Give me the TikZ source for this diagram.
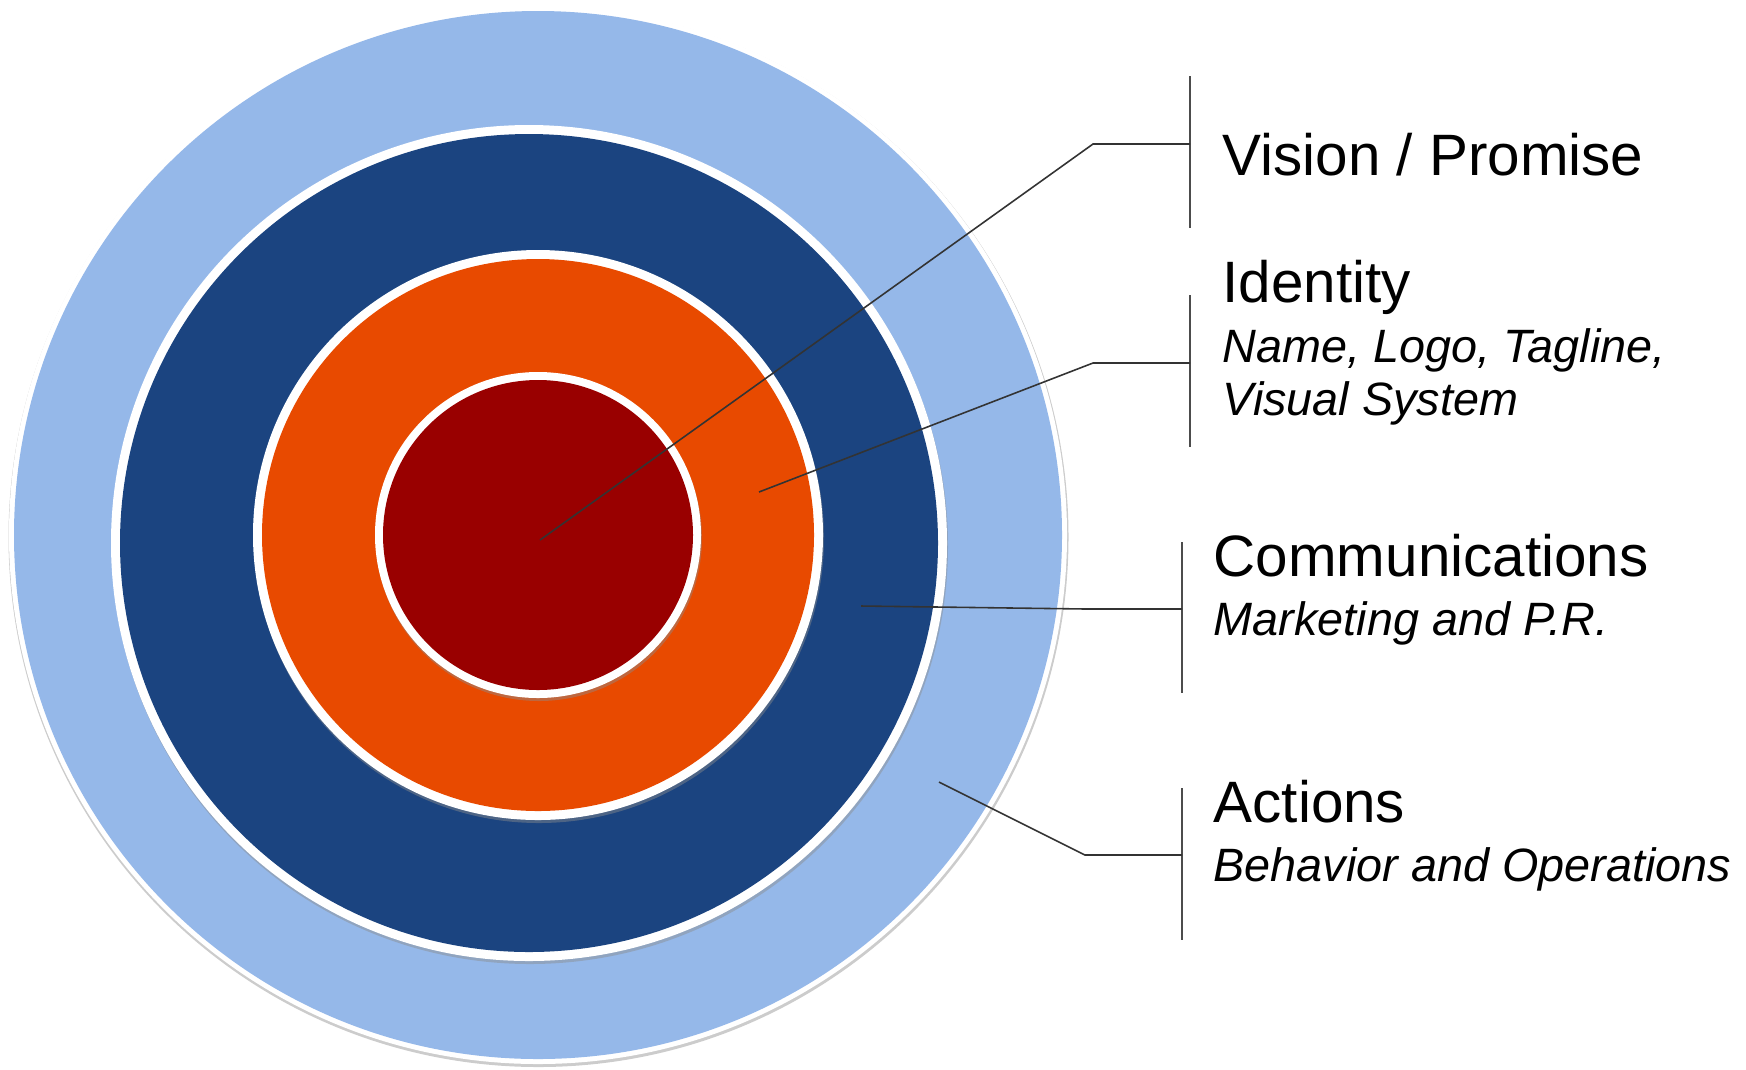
\documentclass[tikz,border=0pt]{standalone}
\usepackage{fontspec}
\setmainfont{Liberation Sans}
\usetikzlibrary{positioning}

\definecolor{skyring}{HTML}{95B8E9}
\definecolor{navyring}{HTML}{1B4480}
\definecolor{orangering}{HTML}{E84A00}
\definecolor{redcore}{HTML}{990000}
\definecolor{leader}{HTML}{333333}

\begin{document}
\begin{tikzpicture}[x=0.01cm,y=-0.01cm]

    \tikzstyle{rim}=[fill=white]
    \tikzstyle{shade}=[fill=black!45,opacity=0.45]
    \tikzstyle{lead}=[draw=leader,line width=0.45pt]
    \tikzstyle{bar}=[draw=black!70,line width=0.55pt]
    \tikzstyle{head}=[anchor=base west,inner sep=0pt,font=\fontsize{16.6}{20}\selectfont]
    \tikzstyle{sub}=[anchor=base west,inner sep=0pt,font=\fontsize{13.3}{16}\selectfont\itshape]

    \useasboundingbox (0,0) rectangle (1746,1069);

    \coordinate (o) at (538,535);
    \coordinate (n) at (529,543);

    \begin{scope}
        % actions
        \fill[black!20] ([shift={(0.5,2)}]o) circle [radius=530];
        \fill[rim] (o) circle [radius=529];
        \fill[skyring] (o) circle [radius=524];
        % communications
        \fill[shade] ([shift={(1,3)}]n) circle [radius=418];
        \fill[rim] (n) circle [radius=418];
        \fill[navyring] (n) circle [radius=409];
        % identity
        \fill[shade] ([shift={(1,3)}]o) circle [radius=285];
        \fill[rim] (o) circle [radius=285];
        \fill[orangering] (o) circle [radius=276];
        % vision
        \fill[shade] ([shift={(1,3)}]o) circle [radius=163];
        \fill[rim] (o) circle [radius=163];
        \fill[redcore] (o) circle [radius=155];
    \end{scope}

    \begin{scope}
        \node [head] (vis) at (1222,175) {Vision / Promise};
        \node [head] (idt) at (1222,302) {Identity};
        \node [sub] (idt1) at (1222,362) {Name, Logo, Tagline,};
        \node [sub] (idt2) at (1222,415) {Visual System};
        \node [head] (com) at (1213,576) {Communications};
        \node [sub] (com1) at (1213,635) {Marketing and P.R.};
        \node [head] (act) at (1213,822) {Actions};
        \node [sub] (act1) at (1213,881) {Behavior and Operations};

        \coordinate (vt) at (1190,76);   \coordinate (vd) at (1190,228);
        \coordinate (it) at (1190,295);  \coordinate (id) at (1190,447);
        \coordinate (ct) at (1182,542);  \coordinate (cd) at (1182,693);
        \coordinate (at) at (1182,788);  \coordinate (ad) at (1182,940);
        \draw [bar] (vt) -- (vd);
        \draw [bar] (it) -- (id);
        \draw [bar] (ct) -- (cd);
        \draw [bar] (at) -- (ad);

        \coordinate (v0) at (540,540);  \coordinate (v1) at (1093,144);  \coordinate (vb) at (1190,144);
        \coordinate (i0) at (759,492);  \coordinate (i1) at (1093,363);  \coordinate (ib) at (1190,363);
        \coordinate (c0) at (861,606);  \coordinate (c1) at (1086,609);  \coordinate (cb) at (1182,609);
        \coordinate (a0) at (939,782);  \coordinate (a1) at (1085,855);  \coordinate (ab) at (1182,855);
        \draw [lead] (v0) -- (v1) -- (vb);
        \draw [lead] (i0) -- (i1) -- (ib);
        \draw [lead] (c0) -- (c1) -- (cb);
        \draw [lead] (a0) -- (a1) -- (ab);
    \end{scope}
\end{tikzpicture}
\end{document}
